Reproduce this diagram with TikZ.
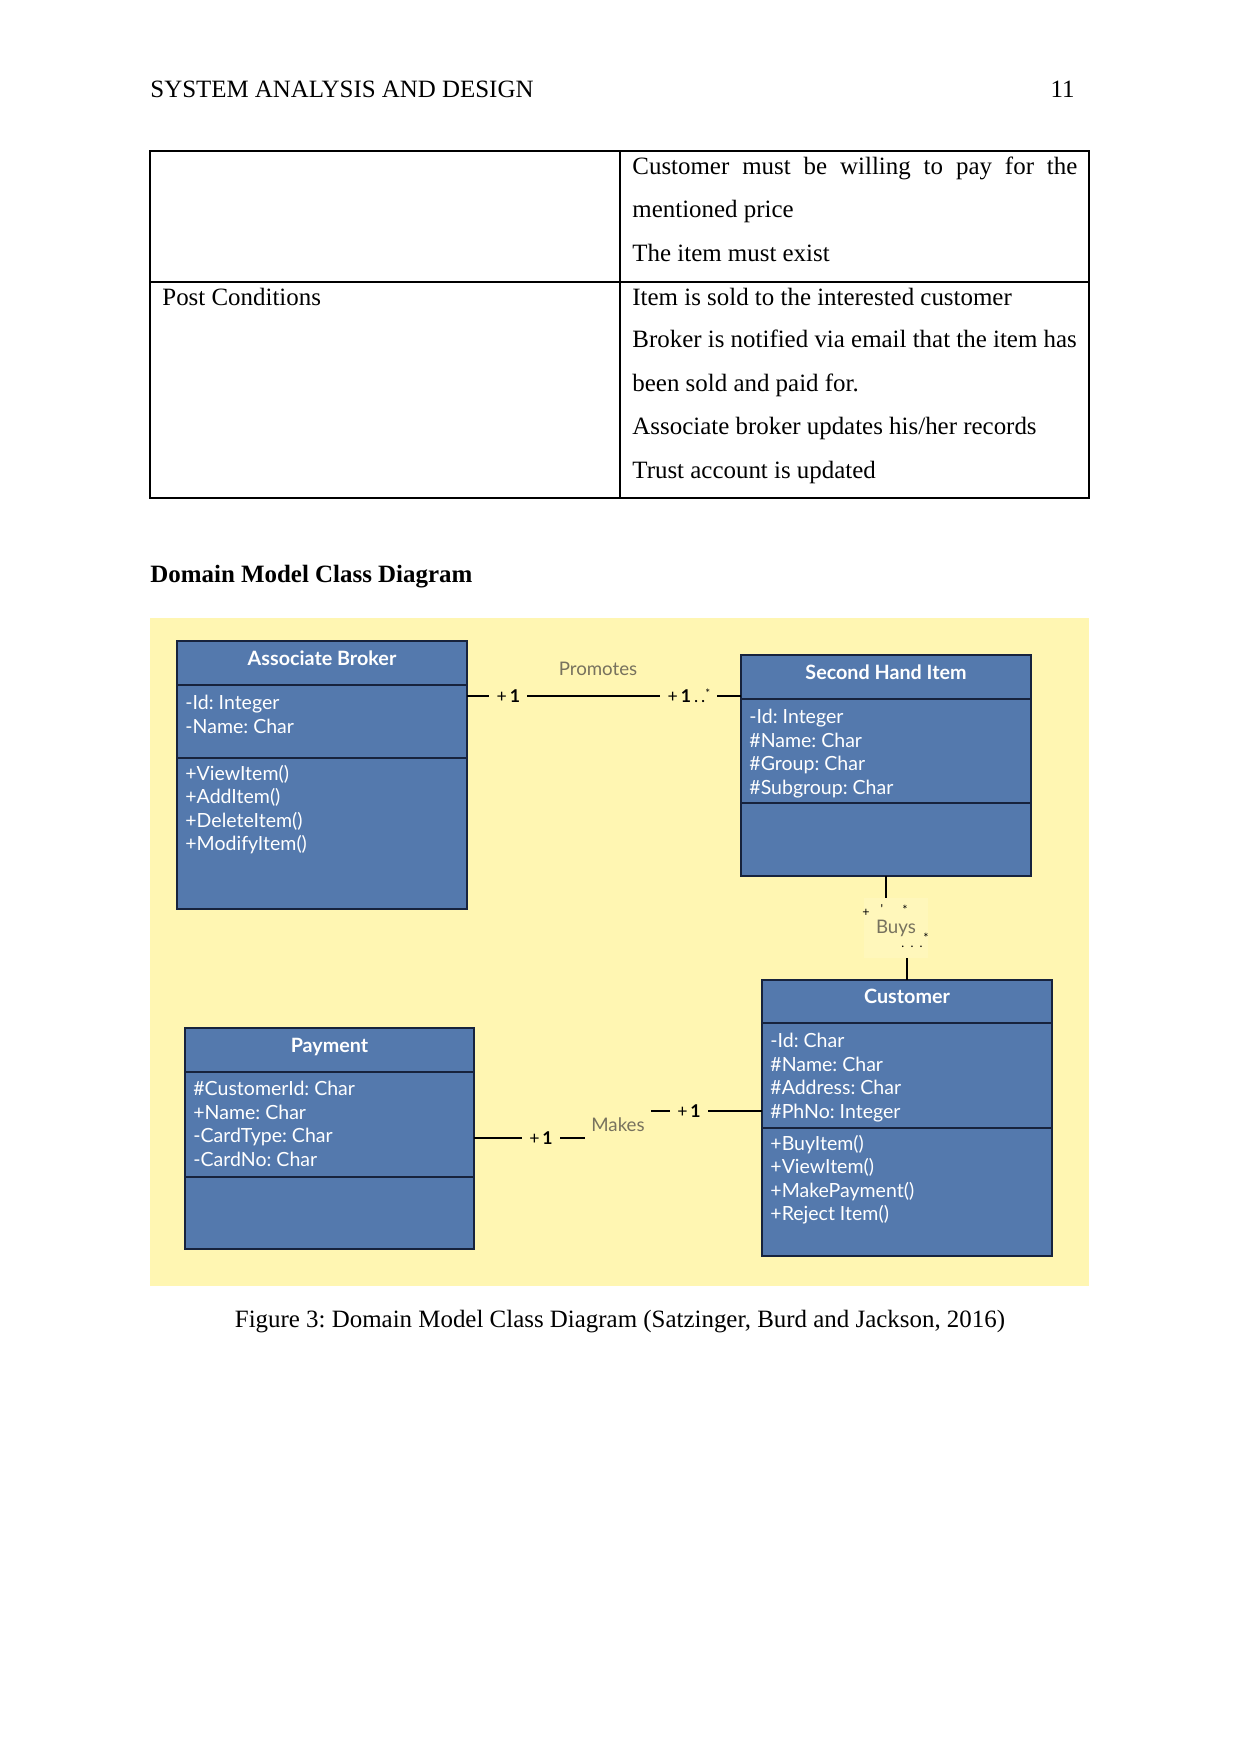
\documentclass[tikz,border=0pt]{standalone}
\usepackage{fontspec}
\setmainfont{Liberation Serif}
\newfontfamily\lato{Lato}
\usepackage{tikz}
\usetikzlibrary{calc,positioning}
\definecolor{boxblue}{HTML}{5479AD}
\definecolor{boxline}{HTML}{17233D}
\definecolor{bgyellow}{HTML}{FFF6B2}
\definecolor{labgray}{HTML}{77725E}
\newlength\upx
\setlength\upx{0.1692mm}
\frenchspacing

\begin{document}
\begin{tikzpicture}[x=0.1692mm, y=-0.1692mm,
    pagetext/.style={inner sep=0pt, font=\fontsize{12}{14}\selectfont},
    classpart/.style={draw=boxline, line width=1.3pt, fill=boxblue, anchor=north west,
      minimum width=290*\upx, inner sep=0pt, outer sep=0pt, text=white,
      text height=7pt, text depth=5pt,
      font=\lato\bfseries\fontsize{9.5}{11.3}\selectfont},
    classtext/.style={anchor=north west, inner sep=0pt, align=left, text=white,
      font=\lato\fontsize{9.4}{11.27}\selectfont},
    assoc/.style={line width=1.4pt},
    mult/.style={fill=bgyellow, inner xsep=3.5pt, inner ysep=1pt, font=\lato\fontsize{8.5}{9}\selectfont},
    rolename/.style={text=labgray, inner sep=0pt, font=\lato\fontsize{9}{11}\selectfont},
    ghost/.style={inner sep=0pt, font=\lato\fontsize{6}{6}\selectfont}]
  % page
  \fill[white] (0,0) rectangle (1241,1754);
  \useasboundingbox (0,0) rectangle (1241,1754);

  % running head
  \node[pagetext, anchor=base west] (runhead) at (150,98) {SYSTEM ANALYSIS AND DESIGN};
  \node[pagetext, anchor=base east] (pagenum) at (1075,98) {11};

  % table
  \draw[line width=0.5pt] (150,151) rectangle (1089,498);
  \draw[line width=1pt] (150,151) -- (1089,151);
  \draw[line width=0.5pt] (150,282) -- (1089,282);
  \draw[line width=0.5pt] (620,151) -- (620,498);
  \node[pagetext, anchor=base west] (pre1) at (632,175) {\makebox[445\upx][s]{Customer must be willing to pay for the}};
  \node[pagetext, anchor=base west] (pre2) at (632,218) {mentioned price};
  \node[pagetext, anchor=base west] (pre3) at (632,262) {The item must exist};
  \node[pagetext, anchor=base west] (postc) at (162,306) {Post Conditions};
  \node[pagetext, anchor=base west] (post1) at (632,306) {Item is sold to the interested customer};
  \node[pagetext, anchor=base west] (post2) at (632,348) {Broker is notified via email that the item has};
  \node[pagetext, anchor=base west] (post3) at (632,392) {been sold and paid for.};
  \node[pagetext, anchor=base west] (post4) at (632,435) {Associate broker updates his/her records};
  \node[pagetext, anchor=base west] (post5) at (632,478) {Trust account is updated};

  % heading
  \node[pagetext, anchor=base west, font=\bfseries\fontsize{12}{14}\selectfont] (heading) at (150,582) {Domain Model Class Diagram};

  % diagram background
  \fill[bgyellow] (150,618) rectangle (1089,1286);

  % Associate Broker
  \node[classpart, minimum height=44*\upx] (ab) at (177,641) {Associate Broker};
  \node[classpart, minimum height=73*\upx] (abA) at (ab.south west) {};
  \node[classpart, minimum height=151*\upx] (abM) at (abA.south west) {};
  \node[classtext] (abAt) at ($(abA.north west)+(8,10)$) {-Id: Integer\\-Name: Char};
  \node[classtext] (abMt) at ($(abM.north west)+(8,7)$) {+ViewItem()\\+AddItem()\\+DeleteItem()\\+ModifyItem()};

  % Second Hand Item
  \node[classpart, minimum height=44*\upx] (shi) at (741,655) {Second Hand Item};
  \node[classpart, minimum height=104*\upx] (shiA) at (shi.south west) {};
  \node[classpart, minimum height=73*\upx] (shiM) at (shiA.south west) {};
  \node[classtext] (shiAt) at ($(shiA.north west)+(8,10)$) {-Id: Integer\\\#Name: Char\\\#Group: Char\\\#Subgroup: Char};

  % Customer
  \node[classpart, minimum height=43*\upx] (cu) at (762,980) {Customer};
  \node[classpart, minimum height=105*\upx] (cuA) at (cu.south west) {};
  \node[classpart, minimum height=128*\upx] (cuM) at (cuA.south west) {};
  \node[classtext] (cuAt) at ($(cuA.north west)+(8,10)$) {-Id: Char\\\#Name: Char\\\#Address: Char\\\#PhNo: Integer};
  \node[classtext] (cuMt) at ($(cuM.north west)+(8,7)$) {+BuyItem()\\+ViewItem()\\+MakePayment()\\+Reject Item()};

  % Payment
  \node[classpart, minimum width=289*\upx, minimum height=44*\upx] (pay) at (185,1028) {Payment};
  \node[classpart, minimum width=289*\upx, minimum height=105*\upx] (payA) at (pay.south west) {};
  \node[classpart, minimum width=289*\upx, minimum height=72*\upx] (payM) at (payA.south west) {};
  \node[classtext] (payAt) at ($(payA.north west)+(8,9)$) {\#CustomerId: Char\\+Name: Char\\-CardType: Char\\-CardNo: Char};

  % Promotes
  \draw[assoc] ($(abA.north east)+(0,11)$) --
    node[mult, pos=0.151] (m1) {+\,\textbf{1}}
    node[mult, pos=0.81] (m2) {+\,\textbf{1}\,.\,.\raisebox{2.5pt}{\fontsize{5.5}{5}\selectfont *}}
    ($(shi.south west)+(0,-3)$);
  \node[rolename] (promotes) at (598,669) {Promotes};

  % Makes
  \coordinate (makesc) at (618,1125);
  \draw[assoc] ($(payA.north east)+(0,66)$) -| (makesc) |- ($(cuA.north west)+(0,88)$);
  \node[rolename, fill=bgyellow, minimum width=66*\upx, minimum height=36*\upx] (makes) at (makesc) {Makes};
  \node[mult] (m3) at (541,1138) {+\,\textbf{1}};
  \node[mult] (m4) at (689,1111) {+\,\textbf{1}};

  % Buys
  \coordinate (buysc) at (896,928);
  \draw[assoc] (shiM.south) |- (buysc) -| (cu.north);
  \node[rolename, fill=bgyellow!88!white, minimum width=64*\upx, minimum height=60*\upx] (buys) at (buysc) {Buys};
  \node[ghost] (g1) at (866,913) {+};
  \node[ghost] (g2) at (882,909) {'};
  \node[ghost] (g3) at (905,910) {*};
  \node[ghost] (g4) at (926,938) {*};
  \node[ghost] (g5) at (912,947) {.\hspace{3pt}.\hspace{3pt}.};

  % caption
  \node[pagetext, anchor=base] (caption) at (620,1327) {Figure 3: Domain Model Class Diagram (Satzinger, Burd and Jackson, 2016)};
\end{tikzpicture}
\end{document}
